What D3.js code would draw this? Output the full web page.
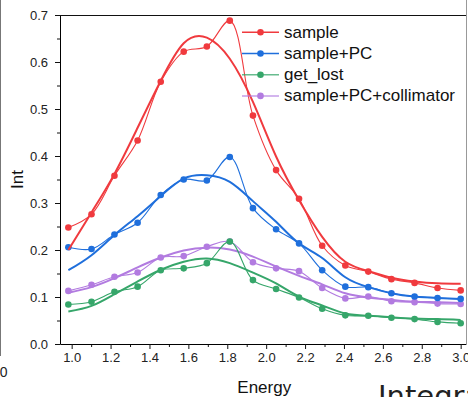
<!DOCTYPE html>
<html>
<head>
<meta charset="utf-8">
<script src="https://cdn.jsdelivr.net/npm/d3@7"></script>
<style>
  html, body { margin: 0; padding: 0; background: #fff; }
  svg { display: block; font-family: "Liberation Sans", Arial, sans-serif; }
</style>
</head>
<body>
<svg id="chart"></svg>
<script>

  // ---------------------------//
  //            DATA            //
  // ---------------------------//

    var energy = [0.983, 1.102, 1.220, 1.339, 1.458, 1.576, 1.695, 1.813, 1.932,
                  2.051, 2.169, 2.288, 2.407, 2.525, 2.644, 2.763, 2.881, 3.000];

    var seriesNames = ["sample", "sample+PC", "get_lost", "sample+PC+collimator"];

    // measured points
    var sample       = [0.248, 0.276, 0.358, 0.433, 0.558, 0.622, 0.633, 0.688, 0.486,
                        0.370, 0.309, 0.209, 0.167, 0.154, 0.138, 0.130, 0.119, 0.114];
    var samplePC     = [0.206, 0.202, 0.233, 0.258, 0.317, 0.350, 0.348, 0.398, 0.289,
                        0.244, 0.214, 0.157, 0.122, 0.121, 0.108, 0.101, 0.098, 0.096];
    var getLost      = [0.084, 0.090, 0.111, 0.122, 0.157, 0.161, 0.172, 0.218, 0.136,
                        0.117, 0.099, 0.075, 0.061, 0.060, 0.056, 0.053, 0.047, 0.044];
    var samplePCColl = [0.113, 0.126, 0.143, 0.152, 0.184, 0.187, 0.207, 0.218, 0.174,
                        0.161, 0.155, 0.119, 0.097, 0.101, 0.091, 0.089, 0.086, 0.085];

    // fitted curves (at the same energies)
    var sampleFit       = [0.200, 0.280, 0.362, 0.460, 0.560, 0.640, 0.652, 0.607, 0.515,
                           0.399, 0.306, 0.228, 0.175, 0.155, 0.141, 0.133, 0.129, 0.128];
    var samplePCFit     = [0.157, 0.189, 0.232, 0.272, 0.315, 0.352, 0.359, 0.345, 0.304,
                           0.260, 0.214, 0.183, 0.142, 0.121, 0.108, 0.101, 0.098, 0.096];
    var getLostFit      = [0.069, 0.081, 0.106, 0.133, 0.158, 0.175, 0.182, 0.172, 0.152,
                           0.129, 0.101, 0.082, 0.065, 0.060, 0.057, 0.054, 0.053, 0.051];
    var samplePCCollFit = [0.109, 0.121, 0.140, 0.163, 0.184, 0.199, 0.205, 0.201, 0.186,
                           0.165, 0.145, 0.127, 0.108, 0.099, 0.094, 0.090, 0.089, 0.087];

    var xTicks = [1.0, 1.2, 1.4, 1.6, 1.8, 2.0, 2.2, 2.4, 2.6, 2.8, 3.0];
    var yTicks = [0.0, 0.1, 0.2, 0.3, 0.4, 0.5, 0.6, 0.7];

  // ---------------------------//
  //         DIMENSIONS         //
  // ---------------------------//

    var width = 468, height = 397;
    var plot = { left: 60, right: 466.5, top: 15, bottom: 344 };

    var svg = d3.select("#chart")
        .attr("width", width)
        .attr("height", height);

  // ---------------------------//
  //           COLORS           //
  // ---------------------------//

    var colors = ["#f03a3e", "#1f6fdc", "#36a66a", "#b27be0"];

  // ---------------------------//
  //       AXIS  AND SCALE      //
  // ---------------------------//

    var x = d3.scaleLinear().domain([0.94, 3.03]).range([plot.left, plot.right]);
    var y = d3.scaleLinear().domain([0, 0.7]).range([plot.bottom, plot.top]);

    // minor ticks
    svg.append("g")
        .attr("transform", "translate(0," + plot.bottom + ")")
        .call(d3.axisBottom(x).tickValues(d3.range(1.1, 3.0, 0.2)).tickSize(3).tickFormat(""))
        .call(g => g.select(".domain").remove());
    svg.append("g")
        .attr("transform", "translate(" + plot.left + ",0)")
        .call(d3.axisLeft(y).tickValues(d3.range(0.05, 0.7, 0.1)).tickSize(3).tickFormat(""))
        .call(g => g.select(".domain").remove());

    // major ticks
    var xAxis = svg.append("g")
        .attr("transform", "translate(0," + plot.bottom + ")")
        .call(d3.axisBottom(x).tickValues(xTicks).tickSize(5).tickSizeOuter(0).tickFormat(d3.format(".1f")));
    var yAxis = svg.append("g")
        .attr("transform", "translate(" + plot.left + ",0)")
        .call(d3.axisLeft(y).tickValues(yTicks).tickSize(5).tickSizeOuter(0).tickFormat(d3.format(".1f")));

    svg.selectAll(".tick text")
        .style("font-size", "13px")
        .attr("fill", "#222");
    xAxis.selectAll(".tick text").attr("y", 9).attr("dy", "0.71em");
    yAxis.selectAll(".tick text").attr("x", -12);
    svg.selectAll(".tick line").attr("stroke", "#111");

    // top frame and right edge
    svg.append("line")
        .attr("x1", plot.left).attr("x2", plot.right)
        .attr("y1", plot.top + 0.5).attr("y2", plot.top + 0.5)
        .attr("stroke", "#111");
    svg.append("line")
        .attr("x1", plot.right).attr("x2", plot.right)
        .attr("y1", 0).attr("y2", 345)
        .attr("stroke", "#999");
    svg.append("line")
        .attr("x1", 0.5).attr("x2", 0.5)
        .attr("y1", 0).attr("y2", 356)
        .attr("stroke", "#777");

  // ---------------------------//
  //           DRAWING          //
  // ---------------------------//

    var points = [sample, samplePC, getLost, samplePCColl];
    var fits = [sampleFit, samplePCFit, getLostFit, samplePCCollFit];

    var fitLine = d3.line()
        .x((d, i) => x(energy[i]))
        .y(d => y(d))
        .curve(d3.curveNatural);

    var dataLine = d3.line()
        .x((d, i) => x(energy[i]))
        .y(d => y(d))
        .curve(d3.curveCatmullRom.alpha(0.5));

    var drawOrder = [3, 2, 1, 0];

    drawOrder.forEach(function(k) {
        svg.append("path")
            .attr("d", fitLine(fits[k]))
            .attr("fill", "none")
            .attr("stroke", colors[k])
            .attr("stroke-width", 2);

        svg.append("path")
            .attr("d", dataLine(points[k]))
            .attr("fill", "none")
            .attr("stroke", colors[k])
            .attr("stroke-width", 1.1);

        svg.append("g").selectAll("circle")
            .data(points[k])
            .enter().append("circle")
            .attr("cx", (d, i) => x(energy[i]))
            .attr("cy", d => y(d))
            .attr("r", 3.3)
            .attr("fill", colors[k]);
    });

  // ---------------------------//
  //           TITLES           //
  // ---------------------------//

    svg.append("text")
        .attr("x", (plot.left + plot.right) / 2 + 1)
        .attr("y", 393)
        .attr("text-anchor", "middle")
        .style("font-size", "17px")
        .attr("fill", "#111")
        .text("Energy");

    svg.append("text")
        .attr("transform", "translate(23," + ((plot.top + plot.bottom) / 2) + ") rotate(-90)")
        .attr("text-anchor", "middle")
        .style("font-size", "17px")
        .attr("fill", "#111")
        .text("Int");

  // ---------------------------//
  //           LEGEND           //
  // ---------------------------//

    var legend = svg.append("g")
        .selectAll("g")
        .data(seriesNames)
        .enter().append("g")
        .attr("transform", function(d, i) {
            return "translate(242," + (32.3 + i * 21.2) + ")";
        });

    legend.append("line")
        .attr("x1", 0).attr("x2", 37)
        .attr("stroke", (d, i) => colors[i])
        .attr("stroke-opacity", (d, i) => i > 1 ? 0.75 : 1)
        .attr("stroke-width", 1.5);

    legend.append("circle")
        .attr("cx", 18.5)
        .attr("r", 3.3)
        .attr("fill", (d, i) => colors[i]);

    legend.append("text")
        .attr("x", 42)
        .attr("y", 5.5)
        .style("font-size", "17px")
        .attr("fill", "#111")
        .text(d => d);

  // ---------------------------//
  //     NEIGHBOURING CROPS     //
  // ---------------------------//

    svg.append("text")
        .attr("x", 7.5)
        .attr("y", 377)
        .attr("text-anchor", "end")
        .style("font-size", "14px")
        .attr("fill", "#222")
        .text("3.0");

    svg.append("text")
        .attr("x", 378)
        .attr("y", 406)
        .style("font-family", "'DejaVu Sans', sans-serif")
        .style("font-size", "29px")
        .attr("fill", "#222")
        .text("Integral");

</script>
</body>
</html>
